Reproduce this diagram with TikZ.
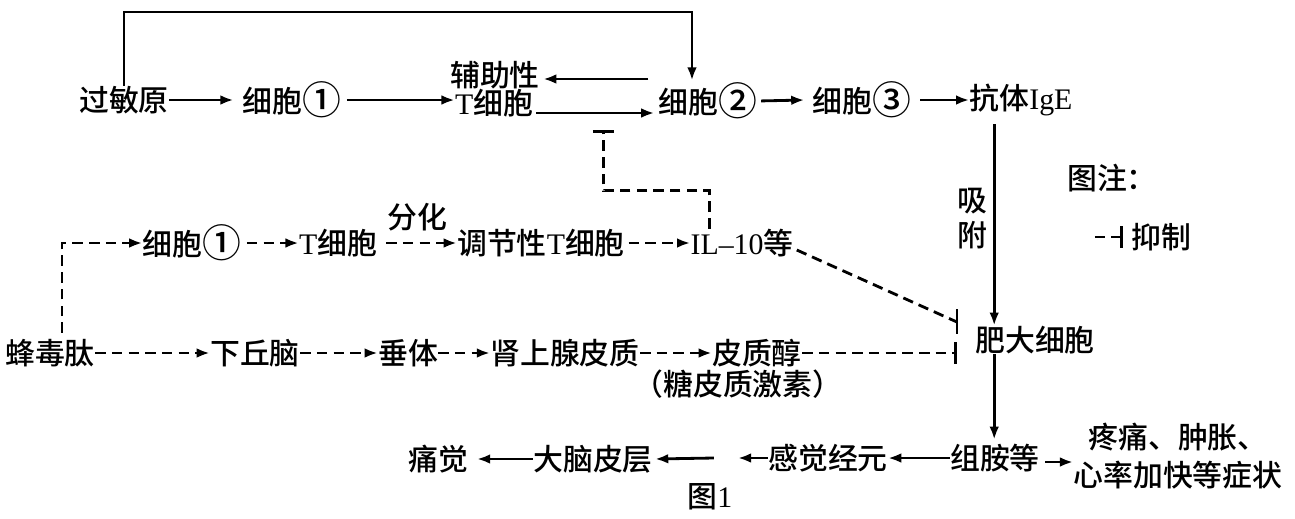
\documentclass[tikz,border=0pt]{standalone}
\usepackage{fontspec}
\setmainfont{Liberation Serif}
\newfontfamily\cjk{Noto Sans CJK SC Medium}
\newfontfamily\lat{Liberation Serif}
\newcommand\qn[1]{\raisebox{-0.08em}{\scalebox{1.3}{#1}}}
\usetikzlibrary{arrows.meta,calc}
\begin{document}
\begin{tikzpicture}[x=0.02cm,y=-0.02cm,
    txt/.style={inner sep=0pt,font=\cjk\fontsize{17}{20}\selectfont},
    arr/.style={line width=1.6pt,-{Latex[length=7.5pt,width=5.5pt]}},
    darr/.style={arr,dash pattern=on 6pt off 3.5pt},
    inh/.style={line width=1.6pt,dash pattern=on 6pt off 3.5pt,-{Bar[width=12pt]}}]
  \useasboundingbox (0,0) rectangle (1295,518);
  % row 1
  \node[txt] (gmy) at (124,100) {过敏原};
  \node[txt] (xb1) at (292,100) {细胞\qn{①}};
  \node[txt] (fz) at (495,75) {辅助性};
  \node[txt] (th) at (494,103) {{\lat T}细胞};
  \node[txt] (xb2) at (708,101) {细胞\qn{②}};
  \node[txt] (xb3) at (862,100) {细胞\qn{③}};
  \node[txt] (kt) at (1021,100) {抗体{\lat IgE}};
  \node[txt] (tz) at (1112,178) {图注：};
  \node[txt] (yz) at (1161,237) {抑制};
  % row 2
  \node[txt] (lx1) at (192,243) {细胞\qn{①}};
  \node[txt] (lt) at (338,243) {{\lat T}细胞};
  \node[txt] (tjx) at (541,243) {调节性{\lat T}细胞};
  \node[txt] (il) at (742,243) {{\lat IL\textendash10}等};
  % row 3
  \node[txt] (fdt) at (50,353) {蜂毒肽};
  \node[txt] (xq) at (255,353) {下丘脑};
  \node[txt] (ct) at (408,353) {垂体};
  \node[txt] (sx) at (565,353) {肾上腺皮质};
  \node[txt] (pzc) at (757,353) {皮质醇};
  \node[txt] (tpz) at (738,384) {（糖皮质激素）};
  \node[txt] (fd) at (1035,340) {肥大细胞};
  % row 4
  \node[txt] (za) at (995,458) {组胺等};
  \node[txt] (gj) at (828,458) {感觉经元};
  \node[txt] (dn) at (593,459) {大脑皮层};
  \node[txt] (tj) at (438,459) {痛觉};
  \node[txt,align=center] (zz) at (1178,456) {疼痛、肿胀、\\[2pt]心率加快等症状};
  \node[txt] (fig) at (710,497) {图{\lat 1}};

  \coordinate (topc) at (400,12);
  \coordinate (kx) at ($(kt.south west)+(25,8)$);
  \coordinate (fdl) at ($(fd.west)+(-18,0)$);
  \coordinate (ilx) at ($(il.north west)+(19,0)$);

  \draw[arr] (gmy.north) |- (topc) -| ($(xb2.north)+(-16,-2)$);
  \draw[arr,shorten >=5pt] (gmy.east) -- (xb1.west);
  \draw[arr,shorten <=3pt] (xb1.east) -- (xb1.east -| th.west);
  \draw[arr] ($(xb2.west)+(-10,-22)$) -- ($(fz.east)+(3,4)$);
  \draw[arr] ($(th.east)+(3,10)$) -- ($(xb2.west)+(-4,12)$);
  \draw[arr,shorten <=2pt] (xb2.east) -- ($(xb3.west)+(-8,0)$);
  \draw[arr,shorten <=5pt] (xb3.east) -- (kt.west);
  \draw[arr] (kx) -- node[txt,left=3pt,align=center,pos=0.47] {吸\\附} (kx |- fd.north);
  \draw[arr] (fd.south -| kx) -- ($(za.north -| kx)+(0,-4)$);
  \draw[arr] (za.west) -- (gj.east);
  \draw[arr] (gj.west) -- ++(-30,0);
  \draw[arr] ($(gj.west)+(-54,0)$) -- ($(dn.east)+(2,0)$);
  \draw[arr,shorten >=5pt] (dn.west) -- (tj.east);
  \draw[arr] ($(za.east)+(5,4)$) -- (zz.west |- 0,462);
  % dashed part
  \draw[darr] ($(fdt.north)+(12,-6)$) |- (lx1.west);
  \draw[darr,shorten <=3pt] (lx1.east) -- (lt.west);
  \draw[darr,shorten <=5pt] (lt.east) -- node[txt,above=6pt] {分化} (tjx.west);
  \draw[darr,shorten <=2pt] (tjx.east) -- (il.west);
  \draw[darr] (fdt.east) -- (xq.west);
  \draw[darr] (xq.east) -- (ct.west);
  \draw[darr] (ct.east) -- (sx.west);
  \draw[darr] (sx.east) -- (pzc.west);
  \draw[inh] (ilx) -- ++(0,-38) -| ($(th.south east)+(70,13)$);
  \draw[line width=1.6pt,dash pattern=on 6pt off 3.5pt] ($(il.east)+(3,7)$) -- ($(fdl)+(0,-18)$);
  \draw[line width=1.6pt] ($(fdl)+(0,-31)$) -- ($(fdl)+(0,-6)$);
  \draw[inh] (pzc.east) -- (pzc.east -| fdl);
  % legend
  \draw[inh] ($(yz.west)+(-36,0)$) -- ($(yz.west)+(-8,0)$);
\end{tikzpicture}
\end{document}
